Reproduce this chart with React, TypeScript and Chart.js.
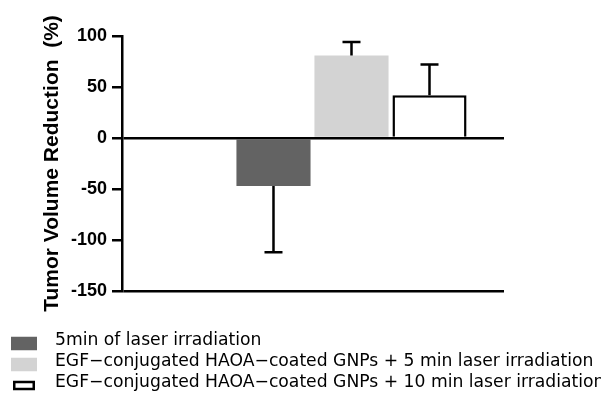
import React, { useEffect, useRef } from 'react';
import { Chart, registerables } from 'chart.js';

Chart.register(...registerables);

// ---- data ----
const seriesLabels = [
  '5min of laser irradiation',
  'EGF\u2212conjugated HAOA\u2212coated GNPs + 5 min laser irradiation',
  'EGF\u2212conjugated HAOA\u2212coated GNPs + 10 min laser irradiation',
];
const barPositions = [1, 2, 3];
const meanValues = [-47, 81, 42];
const errorValues = [65, 13, 30];
const yMin = -150;
const yMax = 100;
const yStep = 50;
const yTitle = 'Tumor Volume Reduction  (%)';

// ---- styles ----
const fillColors = ['#636363', '#d3d3d3', '#ffffff'];
const borderColors = ['#636363', '#d3d3d3', '#000000'];
const borderWidths = [0, 0, 2.5];

const errorBarPlugin = {
  id: 'errorBars',
  afterDatasetsDraw(chart: any) {
    const { ctx } = chart;
    const y = chart.scales.y;
    ctx.save();
    ctx.strokeStyle = '#000';
    ctx.lineWidth = 2.5;
    chart.data.datasets.forEach((ds: any, i: number) => {
      const meta = chart.getDatasetMeta(i);
      meta.data.forEach((bar: any, j: number) => {
        const v = ds.data[j].y;
        const e = ds.errors[j];
        const end = v >= 0 ? v + e : v - e;
        const x = bar.x;
        const y0 = bar.y;
        const y1 = y.getPixelForValue(end);
        ctx.beginPath();
        ctx.moveTo(x, y0);
        ctx.lineTo(x, y1);
        ctx.moveTo(x - 9, y1);
        ctx.lineTo(x + 9, y1);
        ctx.stroke();
      });
    });
    ctx.restore();
  },
};

const legendPlugin = {
  id: 'bottomLegend',
  afterDraw(chart: any) {
    const { ctx } = chart;
    ctx.save();
    ctx.font = '17.2px "DejaVu Sans"';
    ctx.textBaseline = 'middle';
    ctx.textAlign = 'left';
    chart.data.datasets.forEach((ds: any, i: number) => {
      const mid = 340.5 + i * 21;
      const bx = 11;
      const bw = 26;
      const bh = 13.5;
      const by = mid + 3 - bh / 2;
      ctx.fillStyle = ds.backgroundColor;
      if (ds.borderWidth > 0) {
        ctx.strokeStyle = ds.borderColor;
        ctx.lineWidth = 2.5;
        ctx.fillRect(bx + 2, by + 2, bw - 4, bh - 4);
        ctx.strokeRect(bx + 3.25, by + 3.25, bw - 6.5, bh - 6.5);
      } else {
        ctx.fillRect(bx, by, bw, bh);
      }
      ctx.fillStyle = '#000';
      ctx.fillText(ds.label, 55, mid);
    });
    ctx.restore();
  },
};

export default function App() {
  const ref = useRef<HTMLCanvasElement | null>(null);

  useEffect(() => {
    if (!ref.current) return;
    const chart = new Chart(ref.current, {
      type: 'bar',
      data: {
        datasets: seriesLabels.map((label, i) => ({
          label,
          data: [{ x: barPositions[i], y: meanValues[i] }],
          errors: [errorValues[i]],
          backgroundColor: fillColors[i],
          borderColor: borderColors[i],
          borderWidth: borderWidths[i],
          borderSkipped: 'start',
          barPercentage: 0.95,
          categoryPercentage: 1,
        })) as any,
      },
      options: {
        animation: false,
        responsive: false,
        events: [],
        layout: { padding: { left: 40, right: 97, top: 36, bottom: 105 } },
        plugins: {
          legend: { display: false },
          tooltip: { enabled: false },
        },
        scales: {
          x: {
            type: 'linear',
            min: -0.942,
            max: 3.955,
            display: false,
            offset: false,
            stacked: true,
            ticks: { stepSize: 1, includeBounds: false },
          },
          y: {
            min: yMin,
            max: yMax,
            z: 1,
            ticks: {
              stepSize: yStep,
              color: '#000',
              padding: 5,
              font: { family: '"Liberation Sans", Arial, sans-serif', weight: 'bold', size: 18 },
            },
            grid: {
              color: (c: any) =>
                c.tick && (c.tick.value === 0 || c.tick.value === yMin) ? '#000' : 'rgba(0,0,0,0)',
              lineWidth: 2.5,
              tickColor: '#000',
              tickWidth: 2.5,
              tickLength: 10,
              drawTicks: true,
            },
            border: { display: true, color: '#000', width: 2.5 },
            title: {
              display: true,
              text: yTitle,
              color: '#000',
              padding: { top: 0, bottom: 0 },
              font: { family: '"Liberation Sans", Arial, sans-serif', weight: 'bold', size: 21 },
            },
            afterFit: (s: any) => {
              s.width = 82;
            },
          },
        },
      } as any,
      plugins: [errorBarPlugin, legendPlugin],
    });
    return () => chart.destroy();
  }, []);

  return (
    <div style={{ position: 'absolute', left: 0, top: 0, width: 601, height: 396, overflow: 'hidden', background: '#fff' }}>
      <canvas ref={ref} width={601} height={396} style={{ display: 'block' }} />
    </div>
  );
}
